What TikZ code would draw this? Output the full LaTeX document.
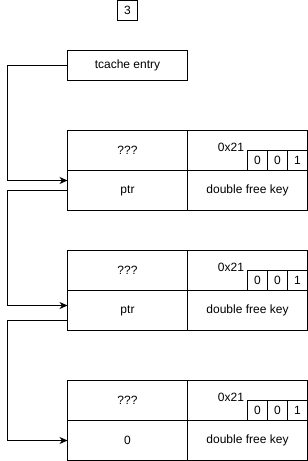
\documentclass[tikz,border=0pt]{standalone}
\usepackage{fontspec}
\setmainfont{Liberation Sans}
\usetikzlibrary{arrows.meta,calc}
\begin{document}
\begin{tikzpicture}[x=1pt,y=-1pt,
  every node/.style={font=\fontsize{12}{14}\selectfont},
  cell/.style={draw,line width=1pt,minimum width=120pt,minimum height=40pt,anchor=north west,inner sep=0pt,outer sep=0pt},
  bit/.style={draw,line width=1pt,minimum width=20pt,minimum height=20pt,anchor=north west,inner sep=0pt,outer sep=0pt},
  conn/.style={line width=1pt},
  arr/.style={conn,-{Stealth[length=8pt,width=7pt,inset=2.5pt]}}]
\useasboundingbox (0,0) rectangle (308,461);
% number box
\node[bit] (num) at (117.5,0.5) {3};
% tcache entry
\node[cell,minimum height=30pt] (tc) at (67.5,50.5) {tcache entry};
% chunks
\foreach \n/\y/\p in {1/130.5/ptr,2/250.5/ptr,3/380.5/0}{
  \node[cell] (q\n) at (67.5,\y) {???};
  \node[cell] (s\n) at (187.5,\y) {};
  \node[cell] (p\n) at (67.5,\y+40) {\p};
  \node[cell] (k\n) at (187.5,\y+40) {double free key};
  \node[bit] (ba\n) at (247.5,\y+20) {0};
  \node[bit] (bb\n) at (267.5,\y+20) {0};
  \node[bit] (bc\n) at (287.5,\y+20) {1};
  \node (h\n) at (231,\y+17) {0x21};
}
% connectors
\draw[arr] (tc.west) -- ++(-60,0) |- ([yshift=10pt]p1.west);
\draw[arr] (p1.west) -- ++(-60,0) |- ([yshift=5pt]p2.west);
\draw[arr] ([yshift=-10pt]p2.west) -- ++(-60,0) |- (p3.west);
\end{tikzpicture}
\end{document}
